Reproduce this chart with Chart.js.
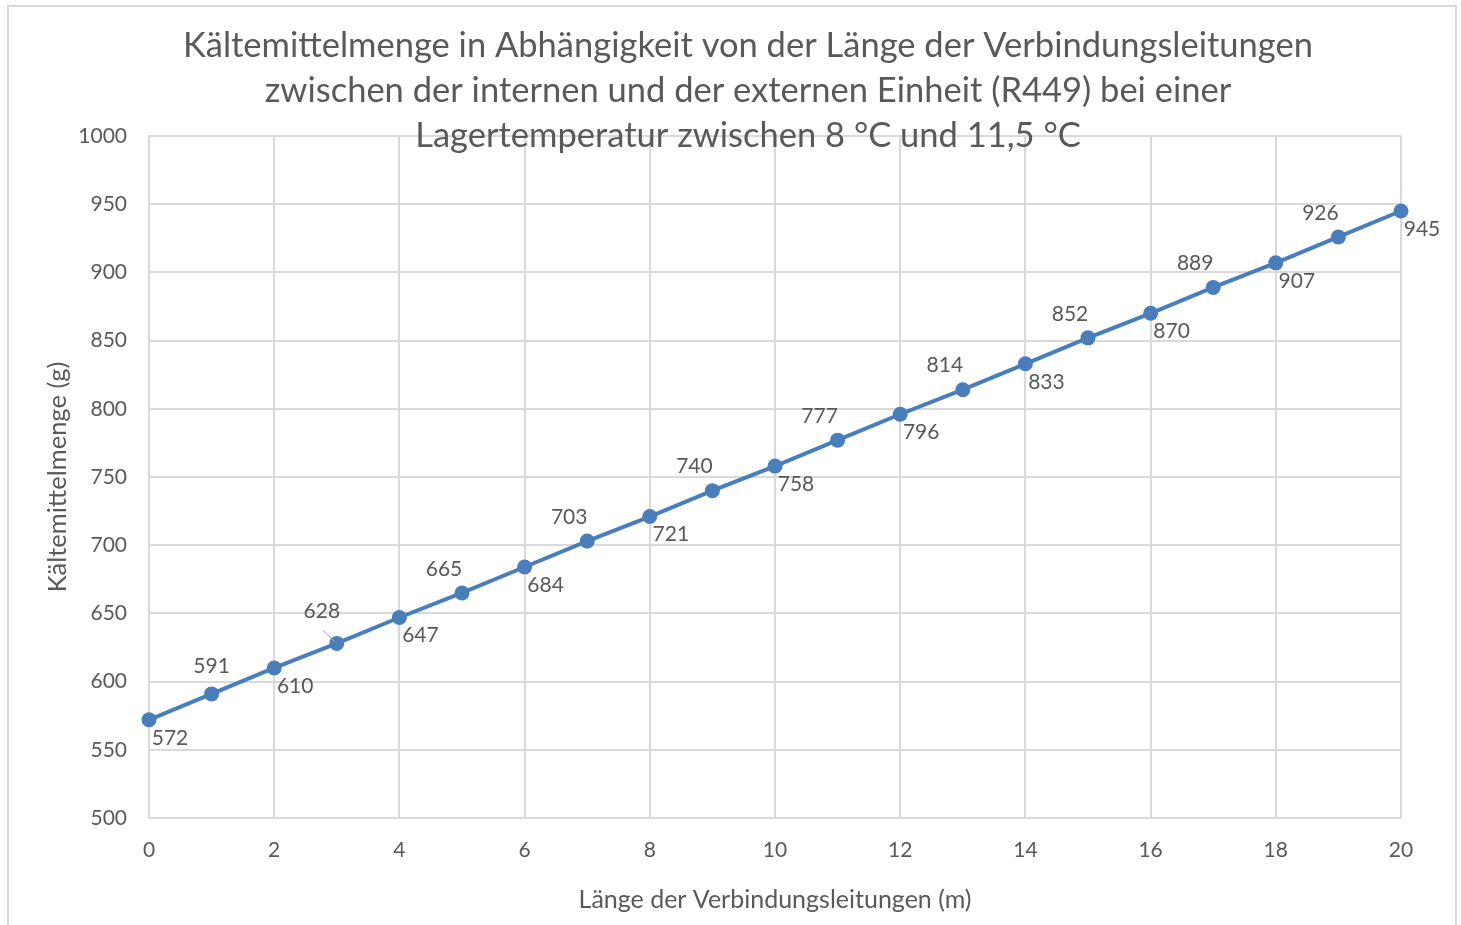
<!DOCTYPE html>
<html>
<head>
<meta charset="utf-8">
<script src="https://cdn.jsdelivr.net/npm/chart.js@4"></script>
<style>
	html, body { margin: 0; padding: 0; background: #fff; }
	#wrap { width: 1461px; height: 925px; }
</style>
</head>
<body>
<div id="wrap"><canvas id="mycanvas" width="1461" height="925"></canvas></div>
<script>
var lengths = [0, 1, 2, 3, 4, 5, 6, 7, 8, 9, 10, 11, 12, 13, 14, 15, 16, 17, 18, 19, 20];
var amounts = [572, 591, 610, 628, 647, 665, 684, 703, 721, 740, 758, 777, 796, 814, 833, 852, 870, 889, 907, 926, 945];
var xTickValues = [0, 2, 4, 6, 8, 10, 12, 14, 16, 18, 20];
var yTickValues = [500, 550, 600, 650, 700, 750, 800, 850, 900, 950, 1000];
var titleLines = [
	'Kältemittelmenge in Abhängigkeit von der Länge der Verbindungsleitungen',
	'zwischen der internen und der externen Einheit (R449) bei einer',
	'Lagertemperatur zwischen 8 °C und 11,5 °C'
];
var xTitle = 'Länge der Verbindungsleitungen (m)';
var yTitle = 'Kältemittelmenge (g)';

var textColor = '#595959';
var gridColor = '#d9d9d9';
var lineColor = '#4a7ebb';
var fontName = 'Lato, "Open Sans", sans-serif';

// frame, title and point labels
var decorations = {
	id: 'decorations',
	beforeDraw: function(chart) {
		var ctx = chart.ctx;
		ctx.save();
		ctx.fillStyle = '#fff';
		ctx.fillRect(0, 0, chart.width, chart.height);
		ctx.strokeStyle = gridColor;
		ctx.lineWidth = 2;
		ctx.strokeRect(8, 6, 1448, 940);
		ctx.restore();
	},
	afterDatasetsDraw: function(chart) {
		var ctx = chart.ctx;
		var meta = chart.getDatasetMeta(0);
		ctx.save();
		ctx.fillStyle = textColor;
		ctx.font = '21px ' + fontName;
		ctx.textAlign = 'center';
		ctx.textBaseline = 'middle';
		meta.data.forEach(function(pt, i) {
			var dx = 21, dy = 18;
			if (i % 2 == 1) { dx = -18; dy = -24; }
			if (i == 1) { dx = 0; dy = -28; }
			if (i == 3) {
				dx = -15; dy = -32;
				ctx.strokeStyle = '#a6a6a6';
				ctx.lineWidth = 1;
				ctx.beginPath();
				ctx.moveTo(pt.x - 14, pt.y - 13);
				ctx.lineTo(pt.x - 2, pt.y - 2);
				ctx.stroke();
			}
			ctx.fillText(String(amounts[i]), pt.x + dx, pt.y + dy);
		});
		ctx.font = '34.5px ' + fontName;
		for (var k = 0; k < titleLines.length; k++) {
			ctx.fillText(titleLines[k], 748, 46 + k * 45);
		}
		ctx.restore();
	}
};

var chartdata = {
	datasets: [
		{
			label: yTitle,
			data: lengths.map(function(x, i) { return {x: x, y: amounts[i]}; }),
			borderColor: lineColor,
			backgroundColor: lineColor,
			borderWidth: 4,
			pointRadius: 7.5,
			pointBorderWidth: 0,
			pointBackgroundColor: lineColor,
			clip: false,
			tension: 0
		}
	]
};

var ctx = document.getElementById('mycanvas');

var LineGraph = new Chart(ctx, {
	type: 'line',
	data: chartdata,
	plugins: [decorations],
	options: {
		responsive: false,
		animation: false,
		layout: { padding: { left: 0, top: 136, right: 60, bottom: 0 } },
		plugins: { legend: { display: false }, tooltip: { enabled: false }, title: { display: false } },
		scales: {
			x: {
				type: 'linear',
				min: 0,
				max: 20,
				afterBuildTicks: function(scale) { scale.ticks = xTickValues.map(function(v) { return {value: v}; }); },
				afterFit: function(scale) { scale.height = 107; },
				grid: { color: gridColor, lineWidth: 2, drawTicks: false },
				border: { color: gridColor, width: 2 },
				ticks: { color: textColor, font: { family: fontName, size: 21 }, padding: 20, maxRotation: 0, autoSkip: false,
					callback: function(v) { return String(v); } },
				title: { display: true, text: xTitle, color: textColor, font: { family: fontName, size: 25 }, padding: { top: 0, bottom: 10 } }
			},
			y: {
				min: 500,
				max: 1000,
				afterBuildTicks: function(scale) { scale.ticks = yTickValues.map(function(v) { return {value: v}; }); },
				afterFit: function(scale) { scale.width = 149; },
				grid: { color: gridColor, lineWidth: 2, drawTicks: false },
				border: { color: gridColor, width: 2 },
				ticks: { color: textColor, font: { family: fontName, size: 21 }, padding: 22, autoSkip: false,
					callback: function(v) { return String(v); } },
				title: { display: true, text: yTitle, color: textColor, font: { family: fontName, size: 25.5 }, padding: { top: 42, bottom: 0 } }
			}
		}
	}
});
</script>
</body>
</html>
